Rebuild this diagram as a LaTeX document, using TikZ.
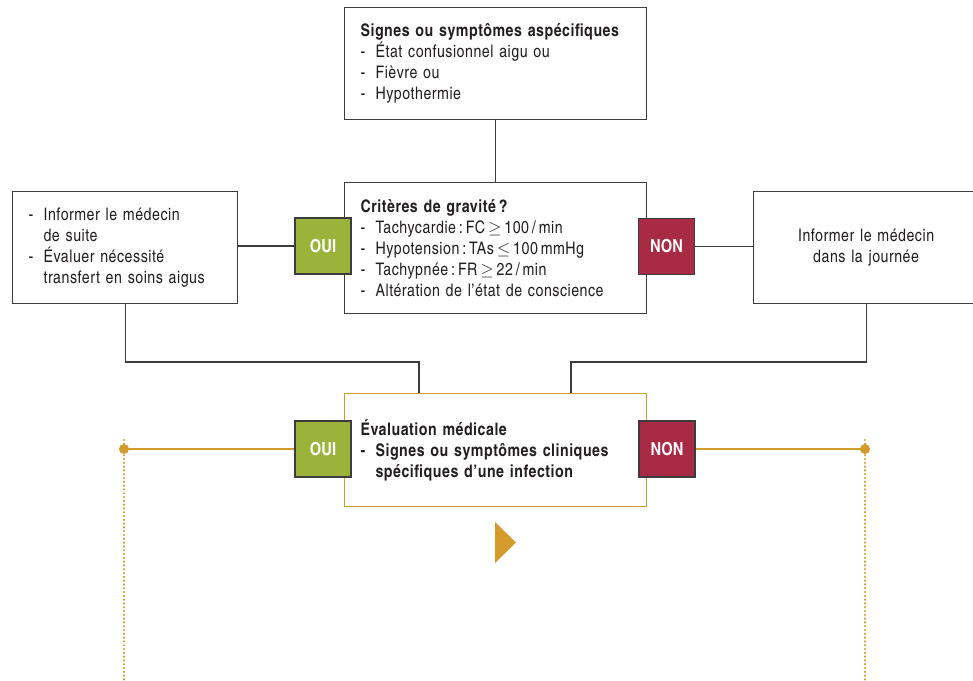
\documentclass[tikz,border=0pt]{standalone}
\usepackage{fontspec}
\setmainfont{texgyreheroscn}[Extension=.otf, UprightFont=*-regular, BoldFont=*-bold, ItalicFont=*-italic, BoldItalicFont=*-bolditalic, LetterSpace=3]
\newfontfamily\tagfont{texgyreheroscn}[Extension=.otf, UprightFont=*-bold]
\definecolor{ouigreen}{HTML}{9BB23B}
\definecolor{nonred}{HTML}{A82A44}
\definecolor{gold}{HTML}{D29B2B}
\definecolor{frame}{HTML}{3C3C3C}
\definecolor{ink}{HTML}{231F20}
\newcommand{\dashitem}[1]{\makebox[15pt][l]{-}#1}
\newcommand{\hangline}[1]{\hspace*{15pt}#1}
\begin{document}
\begin{tikzpicture}[x=1pt,y=-1pt,
  txt/.style={font=\fontsize{17.3}{21}\selectfont, text=ink},
  box/.style={txt, draw=frame, line width=1.2pt, fill=white, inner xsep=16pt, inner ysep=0pt, align=left, anchor=north west},
  goldbox/.style={box, draw=gold},
  tag/.style={draw=frame, line width=1.2pt, minimum width=56pt, minimum height=56pt, inner sep=0pt,
              text=white, font=\fontsize{18}{20}\selectfont\tagfont},
  oui/.style={tag, fill=ouigreen},
  non/.style={tag, fill=nonred},
  link/.style={draw=frame, line width=1.2pt},
  goldlink/.style={draw=gold, line width=1.2pt},
  dotlink/.style={draw=gold, line width=2.4pt, line cap=round, dash pattern=on 0pt off 3.8pt}
]
\useasboundingbox (0,0) rectangle (973,680);

% first question
\node[box, text width=270pt, minimum height=112pt] (sym) at (344,7)
  {\textbf{Signes ou symptômes aspécifiques}\\
   \dashitem{État confusionnel aigu ou}\\
   \dashitem{Fièvre ou}\\
   \dashitem{Hypothermie}};

% severity criteria
\node[box, text width=270pt, minimum height=131pt] (crit) at (344,182)
  {\textbf{Critères de gravité\,?}\\
   \dashitem{Tachycardie\,:\,FC\,$\geq$\,100\,/\,min}\\
   \dashitem{Hypotension\,:\,TAs\,$\leq$\,100\,mmHg}\\
   \dashitem{Tachypnée\,:\,FR\,$\geq$\,22\,/\,min}\\
   \dashitem{Altération de l’état de conscience}};

% outcomes
\node[box, text width=193pt, minimum height=112pt] (urg) at (12,191)
  {\dashitem{Informer le médecin}\\
   \hangline{de suite}\\
   \dashitem{Évaluer nécessité}\\
   \hangline{transfert en soins aigus}};
\node[box, text width=193pt, minimum height=112pt, align=center] (jour) at (753,191)
  {Informer le médecin\\dans la journée};

\node[oui] (oui1) at (323,246) {OUI};
\node[non] (non1) at (666.5,246.5) {NON};

% medical evaluation
\node[goldbox, text width=270pt, minimum height=113pt, font=\fontsize{17.3}{21}\selectfont\bfseries] (eval) at (344,393)
  {Évaluation médicale\\
   \dashitem{Signes ou symptômes cliniques}\\
   \hangline{spécifiques d’une infection}};

\node[oui] (oui2) at (323,449) {OUI};
\node[non] (non2) at (667,449) {NON};

% junction points
\coordinate (jl) at (419,362);
\coordinate (jr) at (571,362);
\coordinate (dl) at (124,449);
\coordinate (dr) at (865,449);
\coordinate (dlb) at (124,682);
\coordinate (drb) at (865,682);

% connectors
\draw[link] (sym.south) -- (crit.north);
\draw[link] (urg.east |- oui1.west) -- (oui1.west);
\draw[link] (non1.east) -- (jour.west |- non1.east);
\draw[link] (urg.south) |- (jl) -- (jl |- eval.north);
\draw[link] (jour.south) |- (jr) -- (jr |- eval.north);

\draw[goldlink] (oui2.west) -- (dl);
\draw[goldlink] (non2.east) -- (dr);
\fill[gold] (dl) circle (5pt);
\fill[gold] (dr) circle (5pt);
\draw[dotlink] ([yshift=9pt]dl) -- (dlb);
\draw[dotlink] ([yshift=9pt]dr) -- (drb);

% pointer below the evaluation box
\fill[gold] (495,522) -- (516,542.5) -- (495,563) -- cycle;
\end{tikzpicture}
\end{document}
